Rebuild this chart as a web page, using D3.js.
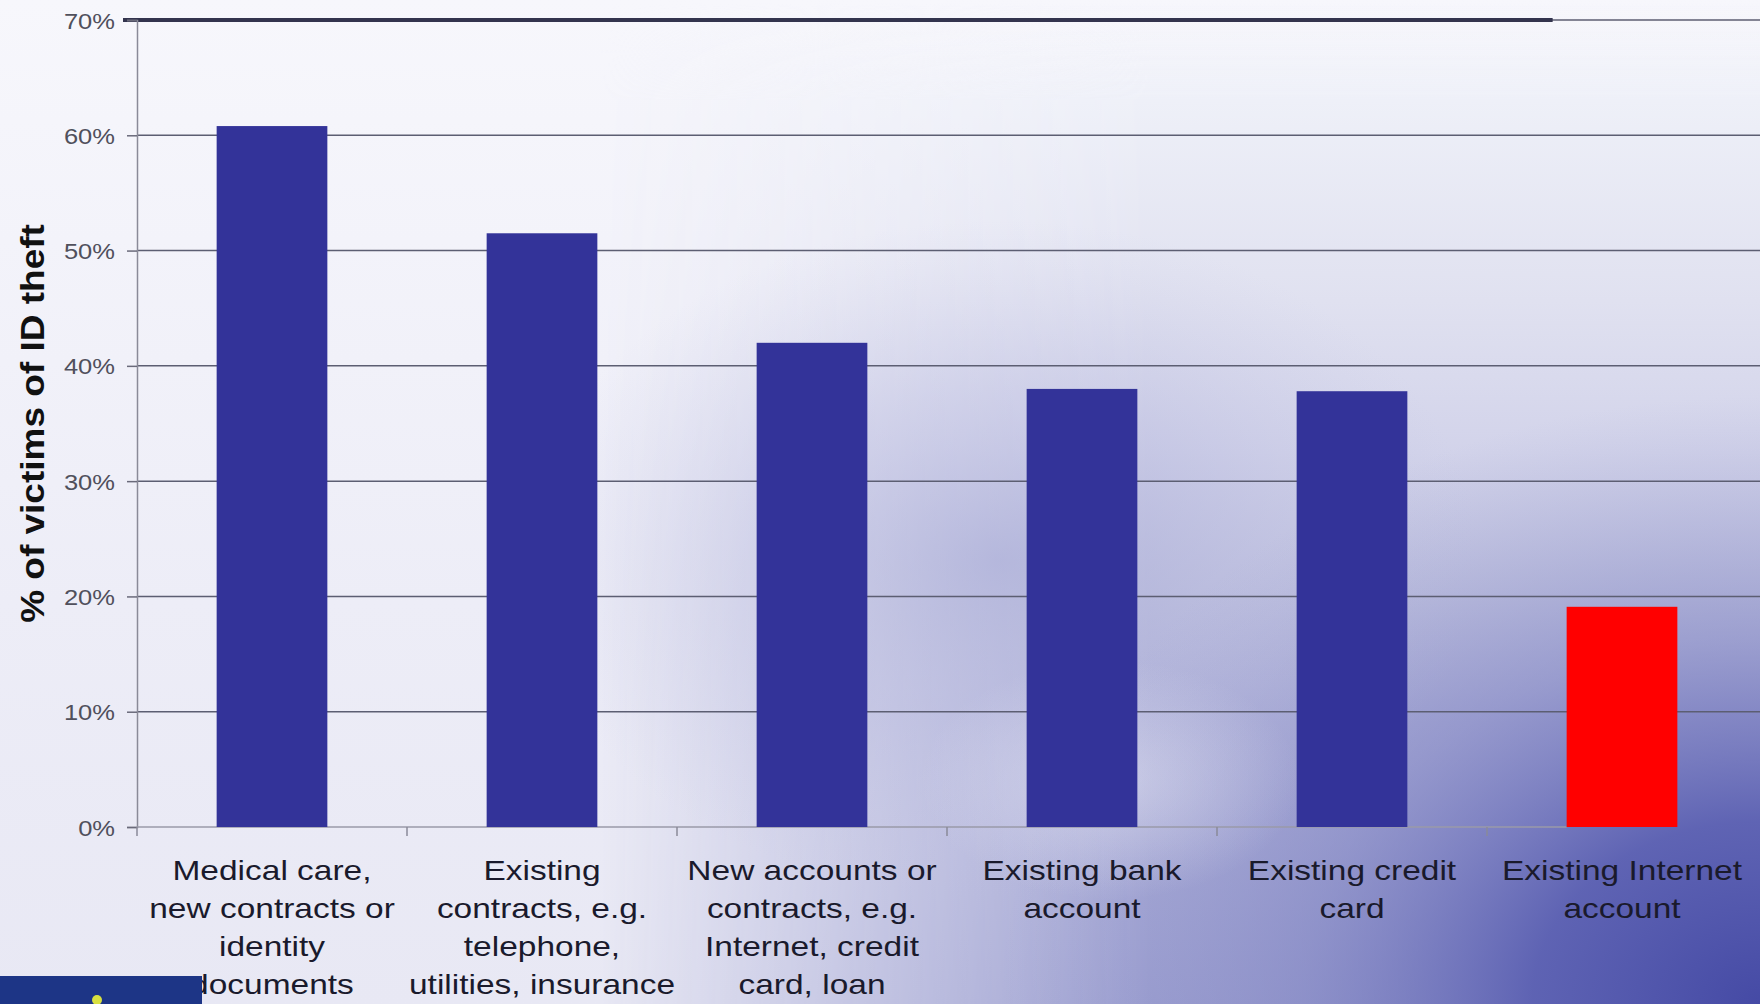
<!DOCTYPE html>
<html>
<head>
<meta charset="utf-8">
<script src="https://cdn.jsdelivr.net/npm/d3@7"></script>
<style>
  html, body { margin: 0; padding: 0; background: #f4f4fa; }
  svg { display: block; }
  text { font-family: "Liberation Sans", Arial, sans-serif; }
</style>
</head>
<body>
<div id="chart"></div>
<script>
// ---- data ----
const categories = [
  "Medical care, new contracts or identity documents",
  "Existing contracts, e.g. telephone, utilities, insurance",
  "New accounts or contracts, e.g. Internet, credit card, loan",
  "Existing bank account",
  "Existing credit card",
  "Existing Internet account"
];
const categoryLines = [
  ["Medical care,", "new contracts or", "identity", "documents"],
  ["Existing", "contracts, e.g.", "telephone,", "utilities, insurance"],
  ["New accounts or", "contracts, e.g.", "Internet, credit", "card, loan"],
  ["Existing bank", "account"],
  ["Existing credit", "card"],
  ["Existing Internet", "account"]
];
const values = [60.8, 51.5, 42.0, 38.0, 37.8, 19.1];
const highlighted = [false, false, false, false, false, true];
const yTicks = [0, 10, 20, 30, 40, 50, 60, 70];
const yTitle = "% of victims of ID theft";

// ---- layout ----
const W = 1760, H = 1004;
const plot = { left: 137, right: 1757, top: 20, bottom: 827 };

const svg = d3.select("#chart").append("svg")
  .attr("width", W).attr("height", H);

const defs = svg.append("defs");
function stops(grad, list) {
  list.forEach(([o, c, op]) => grad.append("stop").attr("offset", o)
    .attr("stop-color", c).attr("stop-opacity", op === undefined ? 1 : op));
}
const lin = defs.append("linearGradient").attr("id", "bgLin")
  .attr("x1", 0).attr("y1", 0).attr("x2", 0).attr("y2", 1);
stops(lin, [[0, "#f7f7fc"], [0.6, "#ededf7"], [1, "#e8e8f4"]]);

// right side vertical tint
const vert = defs.append("linearGradient").attr("id", "vert")
  .attr("x1", 0).attr("y1", 0).attr("x2", 0).attr("y2", 1);
stops(vert, [[0, "#f3f4fa", 0], [0.1, "#eef0f8"], [0.3, "#e0e1f0"], [0.45, "#d2d3ea"],
             [0.6, "#bfc1df"], [0.72, "#aeb0d8"], [1, "#9c9fd0"]]);
const hmaskGrad = defs.append("linearGradient").attr("id", "hmaskGrad")
  .attr("gradientUnits", "userSpaceOnUse")
  .attr("x1", 600).attr("y1", 0).attr("x2", 1150).attr("y2", 0);
stops(hmaskGrad, [[0, "#fff", 0], [1, "#fff", 1]]);
defs.append("mask").attr("id", "hmask")
  .attr("maskUnits", "userSpaceOnUse").attr("x", 0).attr("y", 0).attr("width", W).attr("height", H)
  .append("rect").attr("width", W).attr("height", H).attr("fill", "url(#hmaskGrad)");

const rad = defs.append("radialGradient").attr("id", "bgRad")
  .attr("gradientUnits", "userSpaceOnUse")
  .attr("cx", 1760).attr("cy", 1004).attr("r", 760)
  .attr("gradientTransform", "translate(1760,1004) scale(1,0.8) translate(-1760,-1004)");
stops(rad, [[0, "#454aa5", 1], [0.3, "#575cb0", 0.9], [0.6, "#7e82c2", 0.5], [1, "#9c9fd0", 0]]);

const blob = defs.append("radialGradient").attr("id", "blob");
stops(blob, [[0, "#a3a6d4", 0.6], [0.5, "#b3b5dc", 0.35], [1, "#c0c2e2", 0]]);

const light = defs.append("radialGradient").attr("id", "light");
stops(light, [[0, "#e2e3f2", 0.55], [1, "#e2e3f2", 0]]);

svg.append("rect").attr("width", W).attr("height", H).attr("fill", "url(#bgLin)");
svg.append("rect").attr("width", W).attr("height", H).attr("fill", "url(#vert)").attr("mask", "url(#hmask)");
svg.append("ellipse").attr("cx", 1000).attr("cy", 560).attr("rx", 480).attr("ry", 340).attr("fill", "url(#blob)");
svg.append("rect").attr("width", W).attr("height", H).attr("fill", "url(#bgRad)");
svg.append("ellipse").attr("cx", 1110).attr("cy", 780).attr("rx", 190).attr("ry", 120).attr("fill", "url(#light)");

// ---- scales ----
const x = d3.scaleBand().domain(categories)
  .range([plot.left, plot.right]).paddingInner(0.59).paddingOuter(0.295);
const y = d3.scaleLinear().domain([0, 70]).range([plot.bottom, plot.top]);

// gridlines
svg.append("g").selectAll("line").data(yTicks.filter(t => t > 0)).join("line")
  .attr("x1", plot.left).attr("x2", W)
  .attr("y1", d => y(d)).attr("y2", d => y(d))
  .attr("stroke", "#5c5e72").attr("stroke-width", 1.5);

// decorative dark top rule
svg.append("line")
  .attr("x1", plot.left - 14).attr("x2", x(categories[5]) - 14)
  .attr("y1", y(70)).attr("y2", y(70))
  .attr("stroke", "#33344e").attr("stroke-width", 4);

// y axis
const yAxis = d3.axisLeft(y).tickValues(yTicks).tickSize(10).tickPadding(12)
  .tickFormat(d => d + "%");
const gy = svg.append("g").attr("transform", `translate(${plot.left},0)`).call(yAxis);
gy.select(".domain").attr("stroke", "#8a8a98").attr("stroke-width", 1.5);
gy.selectAll(".tick line").attr("stroke", "#6a6a7a").attr("stroke-width", 1.5);
gy.selectAll(".tick text").each(function(d) {
  const t = d3.select(this);
  t.attr("x", null).attr("dy", null)
   .attr("font-size", 22).attr("fill", "#50505c")
   .attr("text-anchor", "end")
   .attr("transform", `translate(-22, 8) scale(1.16,1)`);
});

// x axis line
svg.append("line")
  .attr("x1", plot.left).attr("x2", x(categories[5]))
  .attr("y1", y(0)).attr("y2", y(0))
  .attr("stroke", "#9a9aa8").attr("stroke-width", 1.5);
svg.append("g").selectAll("line").data(categories).join("line")
  .attr("x1", d => x(d) - (x.step() - x.bandwidth()) / 2)
  .attr("x2", d => x(d) - (x.step() - x.bandwidth()) / 2)
  .attr("y1", y(0)).attr("y2", y(0) + 9)
  .attr("stroke", "#8a8a98").attr("stroke-width", 1.5);

// bars
svg.append("g").selectAll("rect").data(categories).join("rect")
  .attr("x", d => x(d))
  .attr("width", x.bandwidth())
  .attr("y", (d, i) => y(values[i]))
  .attr("height", (d, i) => y(0) - y(values[i]))
  .attr("fill", (d, i) => highlighted[i] ? "#ff0000" : "#333399");

// category labels
const lab = svg.append("g");
categories.forEach((c, i) => {
  const cx = x(c) + x.bandwidth() / 2;
  categoryLines[i].forEach((line, j) => {
    lab.append("text")
      .attr("text-anchor", "middle")
      .attr("font-size", 27)
      .attr("fill", "#1a1a2c")
      .attr("transform", `translate(${cx},${880 + j * 38}) scale(1.24,1)`)
      .text(line);
  });
});

// y title
svg.append("text")
  .attr("text-anchor", "middle")
  .attr("font-size", 37)
  .attr("font-weight", "bold")
  .attr("fill", "#111")
  .attr("transform", `translate(44,${(y(0) + y(70)) / 2}) rotate(-90) scale(1,0.88)`)
  .text(yTitle);

// logo strip bottom-left
svg.append("rect").attr("x", 0).attr("y", 976).attr("width", 202).attr("height", 28)
  .attr("fill", "#1d3586");
svg.append("circle").attr("cx", 97).attr("cy", 1000).attr("r", 5).attr("fill", "#d8e040");
</script>
</body>
</html>
